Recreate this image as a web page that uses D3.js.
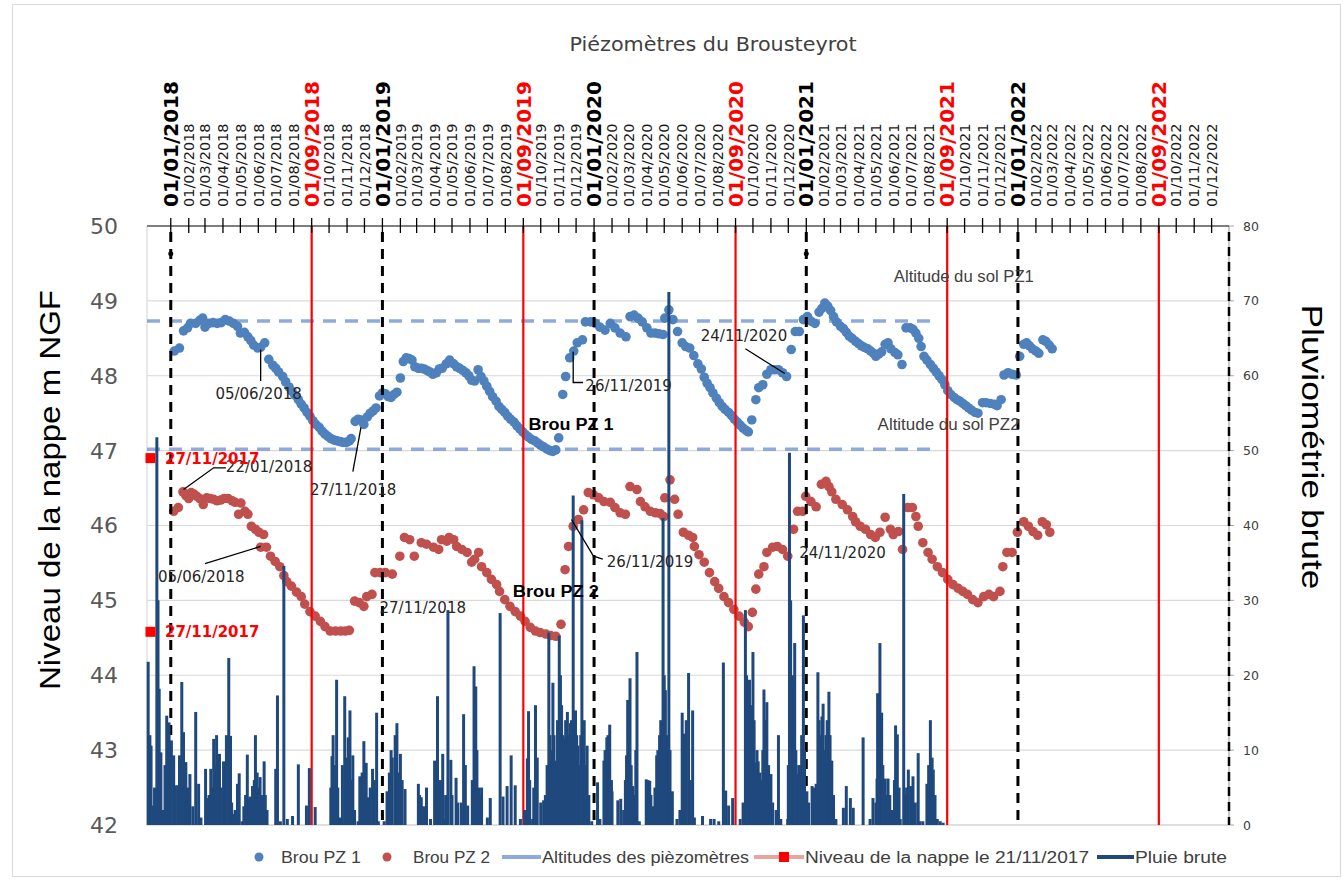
<!DOCTYPE html>
<html><head><meta charset="utf-8">
<script src="https://cdn.jsdelivr.net/npm/d3@7"></script>
<style>body{margin:0;background:#fff}svg{display:block}</style>
</head><body><svg id="c" width="1343" height="881"></svg>
<script>
// ---------------- DATA ----------------
const title = "Piézomètres du Brousteyrot";
const leftTitle = "Niveau  de la nappe m NGF";
const rightTitle = "Pluviométrie brute";
const leftTicks = [42,43,44,45,46,47,48,49,50];
const rightTicks = [0,10,20,30,40,50,60,70,80];
const yearStarts = ["2018-01-01","2019-01-01","2020-01-01","2021-01-01","2022-01-01"];
const septStarts = ["2018-09-01","2019-09-01","2020-09-01","2021-09-01","2022-09-01"];
const altitudes = [48.73, 47.02];
const altitudeRange = ["2017-11-21","2021-08-10"];
const nappe20171121 = [46.90, 44.58];
const nappeDate = "2017-11-27";
const legendLabels = ["Brou PZ 1","Brou PZ 2","Altitudes des pièzomètres","Niveau de la nappe le 21/11/2017","Pluie brute"];

const pz1 = [
["2018-01-07",48.33],["2018-01-16",48.37],["2018-01-23",48.60],["2018-01-30",48.64],["2018-02-04",48.70],["2018-02-13",48.70],
["2018-02-20",48.74],["2018-02-25",48.77],["2018-03-01",48.65],["2018-03-08",48.70],["2018-03-15",48.71],["2018-03-22",48.70],
["2018-03-29",48.71],["2018-04-05",48.75],["2018-04-12",48.73],["2018-04-19",48.70],["2018-04-26",48.66],["2018-05-01",48.57],
["2018-05-08",48.58],["2018-05-14",48.52],["2018-05-19",48.47],["2018-05-24",48.41],["2018-05-31",48.37],["2018-06-05",48.38],
["2018-06-12",48.44],["2018-06-19",48.22],["2018-06-26",48.14],["2018-07-01",48.10],["2018-07-06",48.05],["2018-07-13",47.99],
["2018-07-18",47.92],["2018-07-24",47.85],["2018-07-29",47.79],["2018-08-03",47.74],["2018-08-09",47.68],["2018-08-14",47.62],
["2018-08-19",47.57],["2018-08-24",47.51],["2018-08-29",47.46],["2018-09-03",47.40],["2018-09-08",47.35],["2018-09-14",47.31],
["2018-09-19",47.26],["2018-09-24",47.22],["2018-09-29",47.19],["2018-10-04",47.16],["2018-10-10",47.14],["2018-10-15",47.13],
["2018-10-20",47.12],["2018-10-25",47.11],["2018-10-31",47.11],["2018-11-05",47.13],["2018-11-08",47.16],["2018-11-15",47.39],
["2018-11-20",47.42],["2018-11-25",47.41],["2018-11-30",47.35],["2018-12-06",47.45],["2018-12-11",47.50],["2018-12-16",47.53],
["2018-12-21",47.57],["2018-12-27",47.73],["2019-01-01",47.77],["2019-01-06",47.76],["2019-01-11",47.72],["2019-01-16",47.71],
["2019-01-21",47.75],["2019-01-26",47.78],["2019-02-01",47.97],["2019-02-06",48.19],["2019-02-11",48.24],["2019-02-16",48.23],
["2019-02-21",48.21],["2019-02-26",48.12],["2019-03-04",48.10],["2019-03-09",48.10],["2019-03-14",48.09],["2019-03-19",48.07],
["2019-03-24",48.05],["2019-03-29",48.02],["2019-04-04",48.04],["2019-04-09",48.09],["2019-04-14",48.10],["2019-04-21",48.16],
["2019-04-27",48.21],["2019-05-04",48.16],["2019-05-09",48.12],["2019-05-14",48.10],["2019-05-20",48.07],["2019-05-25",48.04],
["2019-05-30",48.00],["2019-06-04",47.94],["2019-06-09",47.93],["2019-06-15",48.08],["2019-06-20",47.99],["2019-06-25",47.93],
["2019-06-30",47.86],["2019-07-05",47.79],["2019-07-10",47.72],["2019-07-16",47.66],["2019-07-21",47.59],["2019-07-26",47.55],
["2019-07-31",47.51],["2019-08-05",47.46],["2019-08-10",47.42],["2019-08-16",47.38],["2019-08-21",47.33],["2019-08-26",47.29],
["2019-08-31",47.25],["2019-09-05",47.21],["2019-09-10",47.18],["2019-09-15",47.15],["2019-09-21",47.13],["2019-09-26",47.10],
["2019-10-01",47.07],["2019-10-06",47.05],["2019-10-12",47.02],["2019-10-17",47.00],["2019-10-22",46.99],["2019-10-27",47.01],
["2019-11-01",47.17],["2019-11-08",47.75],["2019-11-13",47.99],["2019-11-20",48.24],["2019-11-27",48.33],["2019-12-03",48.44],
["2019-12-12",48.48],["2019-12-17",48.72],["2019-12-26",48.72],["2020-01-03",48.70],["2020-01-11",48.65],["2020-01-20",48.61],
["2020-01-29",48.70],["2020-02-06",48.64],["2020-02-15",48.57],["2020-02-25",48.52],["2020-03-03",48.79],["2020-03-10",48.81],
["2020-03-17",48.77],["2020-03-24",48.72],["2020-04-01",48.64],["2020-04-08",48.57],["2020-04-15",48.57],["2020-04-22",48.56],
["2020-04-29",48.55],["2020-05-02",48.77],["2020-05-09",48.88],["2020-05-16",48.75],["2020-05-24",48.59],["2020-06-01",48.44],
["2020-06-07",48.39],["2020-06-14",48.37],["2020-06-21",48.27],["2020-06-28",48.16],["2020-07-04",48.09],["2020-07-09",47.98],
["2020-07-14",47.90],["2020-07-19",47.84],["2020-07-24",47.77],["2020-07-30",47.70],["2020-08-04",47.64],["2020-08-09",47.59],
["2020-08-14",47.55],["2020-08-20",47.51],["2020-08-25",47.47],["2020-08-30",47.42],["2020-09-04",47.38],["2020-09-09",47.34],
["2020-09-14",47.30],["2020-09-19",47.27],["2020-09-23",47.25],["2020-09-29",47.41],["2020-10-06",47.68],["2020-10-11",47.84],
["2020-10-18",47.88],["2020-10-25",48.02],["2020-11-01",48.08],["2020-11-07",48.08],["2020-11-14",48.08],["2020-11-21",48.04],
["2020-11-28",47.99],["2020-12-06",48.35],["2020-12-13",48.59],["2020-12-20",48.59],["2020-12-27",48.75],["2021-01-03",48.79],
["2021-01-09",48.73],["2021-01-16",48.70],["2021-01-23",48.85],["2021-01-28",48.90],["2021-02-02",48.97],["2021-02-07",48.93],
["2021-02-12",48.87],["2021-02-17",48.79],["2021-02-22",48.72],["2021-03-01",48.66],["2021-03-06",48.63],["2021-03-11",48.58],
["2021-03-16",48.53],["2021-03-21",48.50],["2021-03-27",48.46],["2021-04-01",48.43],["2021-04-06",48.40],["2021-04-11",48.38],
["2021-04-17",48.36],["2021-04-22",48.33],["2021-04-27",48.30],["2021-05-01",48.26],["2021-05-06",48.29],["2021-05-11",48.32],
["2021-05-17",48.42],["2021-05-22",48.44],["2021-05-27",48.36],["2021-06-03",48.31],["2021-06-08",48.28],["2021-06-15",48.15],
["2021-06-22",48.64],["2021-06-29",48.64],["2021-07-04",48.62],["2021-07-09",48.57],["2021-07-14",48.50],["2021-07-18",48.39],
["2021-07-23",48.26],["2021-07-28",48.21],["2021-08-03",48.15],["2021-08-08",48.10],["2021-08-13",48.05],["2021-08-18",48.00],
["2021-08-23",47.95],["2021-08-28",47.88],["2021-09-02",47.80],["2021-09-07",47.75],["2021-09-13",47.71],["2021-09-18",47.68],
["2021-09-23",47.66],["2021-09-28",47.63],["2021-10-03",47.60],["2021-10-08",47.57],["2021-10-13",47.54],["2021-10-19",47.51],
["2021-10-24",47.50],["2021-11-01",47.64],["2021-11-07",47.64],["2021-11-14",47.63],["2021-11-21",47.62],["2021-11-26",47.60],
["2021-12-03",47.68],["2021-12-08",48.01],["2021-12-15",48.04],["2021-12-22",48.02],["2021-12-29",48.01],["2022-01-04",48.26],
["2022-01-11",48.42],["2022-01-16",48.44],["2022-01-21",48.40],["2022-01-26",48.36],["2022-02-01",48.33],["2022-02-06",48.30],
["2022-02-13",48.48],["2022-02-18",48.46],["2022-02-24",48.41],["2022-03-01",48.36]
];

const pz2 = [
["2018-01-06",46.19],["2018-01-14",46.24],["2018-01-22",46.45],["2018-01-27",46.40],["2018-02-01",46.36],["2018-02-05",46.44],
["2018-02-10",46.42],["2018-02-15",46.39],["2018-02-20",46.36],["2018-02-26",46.28],["2018-03-04",46.37],["2018-03-10",46.36],
["2018-03-16",46.35],["2018-03-22",46.33],["2018-03-28",46.34],["2018-04-03",46.36],["2018-04-10",46.36],["2018-04-17",46.33],
["2018-04-22",46.31],["2018-04-28",46.15],["2018-05-02",46.30],["2018-05-09",46.19],["2018-05-14",46.15],["2018-05-20",45.99],
["2018-05-27",45.95],["2018-06-02",45.91],["2018-06-05",45.71],["2018-06-10",45.88],["2018-06-15",45.71],["2018-06-22",45.59],
["2018-06-30",45.52],["2018-07-08",45.45],["2018-07-15",45.33],["2018-07-20",45.25],["2018-07-28",45.19],["2018-08-06",45.11],
["2018-08-14",45.05],["2018-08-20",44.95],["2018-08-29",44.85],["2018-09-07",44.79],["2018-09-16",44.72],["2018-09-24",44.65],
["2018-10-03",44.59],["2018-10-12",44.59],["2018-10-21",44.59],["2018-10-29",44.59],["2018-11-05",44.60],["2018-11-14",44.99],
["2018-11-22",44.97],["2018-11-30",44.92],["2018-12-05",45.05],["2018-12-14",45.08],["2018-12-19",45.37],["2018-12-28",45.37],
["2019-01-06",45.37],["2019-01-18",45.35],["2019-01-31",45.59],["2019-02-08",45.84],["2019-02-17",45.81],["2019-02-25",45.59],
["2019-03-09",45.77],["2019-03-18",45.75],["2019-03-30",45.71],["2019-04-08",45.68],["2019-04-13",45.81],["2019-04-22",45.79],
["2019-04-26",45.84],["2019-05-04",45.81],["2019-05-09",45.72],["2019-05-18",45.68],["2019-05-27",45.64],["2019-06-04",45.51],
["2019-06-09",45.55],["2019-06-16",45.64],["2019-06-21",45.45],["2019-06-30",45.37],["2019-07-08",45.28],["2019-07-17",45.21],
["2019-07-22",45.12],["2019-07-31",45.01],["2019-08-09",44.92],["2019-08-18",44.85],["2019-08-27",44.79],["2019-09-04",44.72],
["2019-09-13",44.64],["2019-09-22",44.59],["2019-09-30",44.57],["2019-10-10",44.55],["2019-10-18",44.53],["2019-10-27",44.52],
["2019-11-05",44.68],["2019-11-12",45.41],["2019-11-18",45.72],["2019-11-26",45.99],["2019-12-05",46.08],["2019-12-14",46.21],
["2019-12-22",46.44],["2019-12-31",46.41],["2020-01-09",46.37],["2020-01-18",46.32],["2020-01-29",46.31],["2020-02-06",46.24],
["2020-02-15",46.17],["2020-02-24",46.15],["2020-03-03",46.52],["2020-03-15",46.48],["2020-03-21",46.32],["2020-03-29",46.25],
["2020-04-07",46.19],["2020-04-16",46.17],["2020-04-24",46.16],["2020-04-30",46.12],["2020-05-02",46.37],["2020-05-11",46.61],
["2020-05-19",46.35],["2020-05-25",46.15],["2020-06-03",45.91],["2020-06-12",45.87],["2020-06-19",45.84],["2020-06-22",45.72],
["2020-06-30",45.61],["2020-07-09",45.51],["2020-07-18",45.37],["2020-07-27",45.25],["2020-08-03",45.16],["2020-08-12",45.05],
["2020-08-20",44.97],["2020-08-29",44.88],["2020-09-07",44.79],["2020-09-16",44.71],["2020-09-23",44.65],["2020-09-30",44.84],
["2020-10-06",45.15],["2020-10-11",45.35],["2020-10-20",45.45],["2020-10-25",45.64],["2020-11-04",45.71],["2020-11-12",45.72],
["2020-11-21",45.68],["2020-11-30",45.59],["2020-12-10",45.95],["2020-12-17",46.19],["2020-12-26",46.19],["2020-12-31",46.39],
["2021-01-09",46.32],["2021-01-18",46.25],["2021-01-27",46.55],["2021-02-04",46.59],["2021-02-09",46.52],["2021-02-14",46.45],
["2021-02-21",46.35],["2021-03-04",46.28],["2021-03-13",46.21],["2021-03-22",46.12],["2021-03-27",46.05],["2021-04-04",45.99],
["2021-04-13",45.95],["2021-04-22",45.88],["2021-04-30",45.84],["2021-05-08",45.91],["2021-05-17",46.11],["2021-05-26",45.95],
["2021-05-31",45.88],["2021-06-09",45.92],["2021-06-16",45.68],["2021-06-25",46.24],["2021-07-03",46.24],["2021-07-09",46.12],
["2021-07-13",45.99],["2021-07-21",45.77],["2021-07-30",45.64],["2021-08-06",45.55],["2021-08-15",45.45],["2021-08-24",45.37],
["2021-09-02",45.28],["2021-09-11",45.21],["2021-09-20",45.16],["2021-09-28",45.12],["2021-10-06",45.08],["2021-10-15",45.01],
["2021-10-24",44.97],["2021-11-03",45.05],["2021-11-12",45.08],["2021-11-20",45.05],["2021-12-01",45.12],["2021-12-06",45.45],
["2021-12-13",45.64],["2021-12-22",45.64],["2021-12-31",45.91],["2022-01-11",46.05],["2022-01-19",45.99],["2022-01-27",45.92],
["2022-02-04",45.87],["2022-02-12",46.05],["2022-02-19",46.01],["2022-02-25",45.91]
];

const rain = [
["2017-11-23",21.8],["2017-11-26",12.0],["2017-11-28",10.6],["2017-12-01",2.6],["2017-12-04",5.0],["2017-12-08",51.8],["2017-12-10",30.0],["2017-12-12",18.2],
["2017-12-15",9.7],["2017-12-18",2.0],["2017-12-22",8.0],["2017-12-25",14.6],["2017-12-29",13.7],["2018-01-02",11.3],["2018-01-06",9.3],
["2018-01-09",5.3],["2018-01-13",5.3],["2018-01-16",9.3],["2018-01-20",19.1],["2018-01-23",12.4],["2018-01-27",8.4],["2018-01-30",5.0],
["2018-02-03",6.8],["2018-02-08",2.5],["2018-02-13",15.1],["2018-02-18",5.5],["2018-02-22",1.0],["2018-03-02",7.5],["2018-03-06",3.6],
["2018-03-11",7.5],["2018-03-16",11.5],["2018-03-19",8.0],["2018-03-21",12.0],["2018-03-26",9.5],["2018-04-02",8.5],["2018-04-04",6.5],["2018-04-07",12.0],
["2018-04-11",22.3],["2018-04-14",11.9],["2018-04-19",1.5],["2018-04-26",5.5],["2018-04-29",6.9],["2018-05-04",0.5],["2018-05-13",9.4],
["2018-05-18",3.8],["2018-05-22",5.2],["2018-05-27",12.0],["2018-05-30",7.0],["2018-06-04",6.4],["2018-06-08",4.0],["2018-06-11",8.5],["2018-06-16",2.0],
["2018-07-01",7.5],["2018-07-04",17.3],["2018-07-09",0.5],["2018-07-15",34.6],["2018-07-21",0.8],["2018-07-30",1.2],["2018-08-09",8.1],
["2018-08-23",2.6],["2018-08-28",7.6],["2018-09-07",2.4],["2018-10-04",5.0],["2018-10-06",9.2],["2018-10-14",19.4],["2018-10-19",1.0],
["2018-10-28",17.2],["2018-11-01",9.0],["2018-11-03",11.7],["2018-11-06",15.3],["2018-11-11",9.3],["2018-11-20",0.5],["2018-11-23",6.5],
["2018-11-27",7.0],["2018-11-30",11.2],["2018-12-04",8.3],["2018-12-08",3.7],["2018-12-15",7.5],["2018-12-22",15.0],["2018-12-25",0.5],["2019-01-04",0.5],
["2019-01-09",4.5],["2019-01-18",9.0],["2019-01-23",12.0],["2019-01-26",13.6],["2019-02-01",9.5],["2019-02-09",4.8],["2019-03-04",5.5],
["2019-03-09",3.7],["2019-03-18",5.0],["2019-03-25",0.8],["2019-04-01",8.6],["2019-04-06",17.2],["2019-04-08",1.0],["2019-04-15",9.5],
["2019-04-17",0.8],["2019-04-24",28.7],["2019-04-29",8.7],["2019-05-08",6.3],["2019-05-11",3.0],["2019-05-21",14.8],["2019-05-28",2.6],
["2019-06-08",21.2],["2019-06-11",18.5],["2019-06-16",5.0],["2019-06-21",5.0],["2019-07-01",1.0],["2019-07-06",3.6],["2019-07-23",28.3],
["2019-07-28",3.8],["2019-08-04",5.2],["2019-08-11",9.3],["2019-08-18",5.3],["2019-08-27",0.8],["2019-09-03",2.0],["2019-09-08",8.9],
["2019-09-10",15.2],["2019-09-17",0.8],["2019-09-22",16.0],["2019-09-25",9.0],["2019-10-01",3.0],["2019-10-06",3.3],["2019-10-15",25.7],
["2019-10-19",10.0],["2019-10-22",19.0],["2019-10-27",8.6],["2019-11-02",25.3],["2019-11-06",16.0],["2019-11-11",11.6],["2019-11-16",15.1],["2019-11-21",13.6],
["2019-11-26",44.0],["2019-11-30",15.3],["2019-12-04",10.6],["2019-12-11",40.7],["2019-12-15",14.0],["2019-12-20",10.6],["2019-12-23",4.0],
["2019-12-28",0.5],["2020-01-07",5.7],["2020-01-11",0.8],["2020-01-18",8.6],["2020-01-23",11.7],["2020-01-28",13.4],["2020-02-01",4.5],
["2020-02-11",3.3],["2020-02-16",3.5],["2020-02-26",9.3],["2020-02-28",16.7],["2020-03-03",19.6],["2020-03-08",5.2],["2020-03-15",23.1],
["2020-03-19",0.5],["2020-03-31",6.1],["2020-04-06",5.9],["2020-04-11",2.5],["2020-04-18",9.3],["2020-04-23",12.0],["2020-04-27",12.8],
["2020-04-29",41.0],["2020-05-03",18.0],["2020-05-06",12.0],["2020-05-09",71.2],["2020-05-15",4.5],["2020-05-23",0.8],["2020-06-01",15.0],
["2020-06-05",12.2],["2020-06-12",20.3],["2020-06-19",15.3],["2020-06-22",1.0],["2020-07-06",1.2],["2020-07-20",0.8],["2020-07-26",0.8],
["2020-08-03",0.5],["2020-08-11",21.7],["2020-08-15",4.6],["2020-08-20",2.6],["2020-08-27",3.6],["2020-09-09",0.8],["2020-09-18",28.7],
["2020-09-21",12.0],["2020-09-25",19.4],["2020-10-01",23.1],["2020-10-06",8.3],["2020-10-10",8.5],["2020-10-15",6.0],["2020-10-20",18.1],["2020-10-25",16.4],
["2020-11-01",6.8],["2020-11-14",12.0],["2020-11-18",0.8],["2020-11-30",0.8],["2020-12-03",49.7],["2020-12-08",20.0],["2020-12-12",24.3],["2020-12-17",6.8],
["2020-12-22",8.0],["2020-12-27",28.0],["2021-01-02",4.5],["2021-01-11",5.2],["2021-01-18",5.5],["2021-01-21",20.4],["2021-01-28",14.5],["2021-01-30",16.2],
["2021-02-04",12.0],["2021-02-09",17.8],["2021-02-14",8.6],["2021-02-21",0.8],["2021-03-06",2.3],["2021-03-11",5.2],["2021-03-18",3.6],
["2021-03-23",2.3],["2021-04-09",11.7],["2021-04-21",0.8],["2021-04-26",3.6],["2021-05-03",6.2],["2021-05-04",17.6],["2021-05-08",24.3],
["2021-05-11",15.0],["2021-05-17",6.2],["2021-05-22",6.2],["2021-05-29",2.0],["2021-06-04",13.3],["2021-06-07",12.1],["2021-06-12",0.8],
["2021-06-18",44.2],["2021-06-21",4.1],["2021-06-26",7.4],["2021-06-30",5.2],["2021-07-04",6.5],["2021-07-13",9.6],["2021-07-16",0.5],
["2021-07-21",0.5],["2021-07-28",5.5],["2021-08-03",14.0],["2021-08-08",7.4],["2021-08-15",0.8],["2021-08-20",0.5],["2021-08-25",0.3]
];
// additional low daily totals read between the main spikes
const rainMore = [
["2018-03-08",4.0],["2018-03-13",5.0],["2018-03-24",6.0],["2018-03-29",5.0],["2018-04-16",3.0],["2018-04-22",2.0],["2018-05-07",2.5],
["2018-05-10",4.0],["2018-05-16",3.5],["2018-05-25",6.0],["2018-06-01",5.0],["2018-06-13",4.0],
["2018-10-08",12.0],["2018-10-11",8.0],["2018-10-16",5.0],["2018-10-24",8.0],["2018-10-31",6.0],["2018-11-09",6.0],["2018-11-14",2.0],
["2018-12-01",6.0],["2018-12-11",5.0],["2018-12-18",6.0],["2019-01-13",7.0],["2019-01-16",10.0],["2019-01-29",7.0],["2019-02-04",6.0],
["2019-03-06",4.0],["2019-03-13",2.5],["2019-04-03",5.0],["2019-04-11",6.0],["2019-04-20",4.0],["2019-05-01",4.0],["2019-05-17",3.0],
["2019-05-24",8.0],["2019-06-05",6.0],["2019-06-13",10.0],["2019-06-19",4.0],
["2019-09-12",6.0],["2019-09-19",5.0],["2019-10-09",4.0],["2019-10-12",8.0],["2019-10-17",12.0],["2019-10-24",12.0],["2019-10-30",14.0],
["2019-11-04",20.0],["2019-11-08",12.0],["2019-11-13",14.0],["2019-11-18",12.0],["2019-11-23",14.0],["2019-11-28",12.0],["2019-12-02",12.0],
["2019-12-07",8.0],["2019-12-09",12.0],["2019-12-13",10.0],["2019-12-17",8.0],
["2020-01-20",10.0],["2020-01-25",12.0],["2020-01-31",6.0],["2020-02-21",2.0],["2020-02-24",6.0],["2020-03-01",12.0],["2020-03-05",8.0],
["2020-03-11",4.0],["2020-03-13",10.0],["2020-04-03",6.0],["2020-04-08",4.0],["2020-04-15",5.0],["2020-04-20",10.0],["2020-04-25",14.0],
["2020-05-01",20.0],["2020-05-11",10.0],["2020-05-28",2.0],["2020-06-03",10.0],["2020-06-08",14.0],["2020-06-15",6.0],
["2020-09-14",3.0],["2020-09-20",20.0],["2020-09-23",14.0],["2020-09-28",16.0],["2020-10-03",14.0],["2020-10-08",10.0],["2020-10-13",7.0],
["2020-10-18",10.0],["2020-10-22",14.0],["2020-10-28",8.0],["2020-11-04",3.0],["2020-11-10",2.0],["2020-12-01",8.0],["2020-12-05",30.0],
["2020-12-10",18.0],["2020-12-14",10.0],["2020-12-19",8.0],["2020-12-24",12.0],["2020-12-29",10.0],
["2021-01-05",3.0],["2021-01-14",5.0],["2021-01-23",14.0],["2021-01-25",12.0],["2021-02-01",10.0],["2021-02-06",14.0],["2021-02-11",12.0],
["2021-02-17",4.0],["2021-05-01",3.0],["2021-05-06",10.0],["2021-05-13",8.0],["2021-05-19",4.0],["2021-05-25",4.0],["2021-06-02",6.0],
["2021-06-10",5.0],["2021-06-23",5.0],["2021-07-08",3.0],["2021-07-31",8.0],["2021-08-06",9.0],["2021-08-11",4.0]
];

const annotations = [
  {t:"05/06/2018", d:"2018-03-19", v:47.69, line:[["2018-06-05",48.35],["2018-06-05",47.93]]},
  {t:"22/01/2018", d:"2018-04-06", v:46.72, line:[["2018-01-23",46.48],["2018-03-16",46.77],["2018-04-06",46.77]]},
  {t:"27/11/2018", d:"2018-08-29", v:46.41, line:[["2018-11-25",47.31],["2018-11-11",46.72]]},
  {t:"05/06/2018", d:"2017-12-10", v:45.24, line:[["2018-06-05",45.72],["2018-03-01",45.49]]},
  {t:"27/11/2018", d:"2018-12-27", v:44.83, line:null},
  {t:"26/11/2019", d:"2019-12-17", v:47.80, line:[["2019-11-26",48.32],["2019-11-26",47.91],["2019-12-13",47.91]]},
  {t:"26/11/2019", d:"2020-01-23", v:45.45, line:[["2019-11-23",46.08],["2019-12-31",45.59],["2020-01-16",45.55]]},
  {t:"24/11/2020", d:"2020-07-03", v:48.47, line:[["2020-09-18",48.36],["2020-11-25",48.03]]},
  {t:"24/11/2020", d:"2020-12-20", v:45.57, line:null}
];
const boldNotes = [
  {t:"Brou PZ 1", d:"2019-09-10", v:47.28, w:85},
  {t:"Brou PZ 2", d:"2019-08-14", v:45.05, w:86}
];
const plainNotes = [
  {t:"Altitude du sol PZ1", d:"2021-06-01", v:49.25, w:140},
  {t:"Altitude du sol PZ2", d:"2021-05-04", v:47.27, w:142}
];
const redNoteText = "27/11/2017";
const redNoteDate = "2017-12-22";

// ---------------- CHART ----------------
const parse = d3.timeParse("%Y-%m-%d");
const fmt = d3.timeFormat("%d/%m/%Y");
const svg = d3.select("#c");
const L=147, R=1229, T=226, B=825;
const x = d3.scaleTime().domain([parse("2017-11-21"), parse("2022-12-31")]).range([L,R]);
const y = d3.scaleLinear().domain([42,50]).range([B,T]);
const yr = d3.scaleLinear().domain([0,80]).range([B,T]);

svg.append("rect").attr("x",12.5).attr("y",4.5).attr("width",1328).attr("height",872)
  .attr("fill","#fff").attr("stroke","#d9d9d9");

svg.append("text").attr("x",713).attr("y",51).attr("text-anchor","middle")
  .attr("font-family","DejaVu Sans").attr("font-size",19).attr("fill","#404040")
  .attr("textLength",287).attr("lengthAdjust","spacingAndGlyphs").text(title);

// gridlines
svg.append("g").selectAll("line").data(leftTicks.slice(1,-1)).join("line")
  .attr("x1",L).attr("x2",R).attr("y1",d=>y(d)).attr("y2",d=>y(d))
  .attr("stroke","#d9d9d9").attr("stroke-width",1.2);
svg.append("line").attr("x1",L).attr("x2",R).attr("y1",B).attr("y2",B).attr("stroke","#bfbfbf").attr("stroke-width",1.2);
svg.append("line").attr("x1",L).attr("x2",L).attr("y1",T).attr("y2",B).attr("stroke","#d9d9d9").attr("stroke-width",1.2);

// left axis labels
svg.append("g").selectAll("text").data(leftTicks).join("text")
  .attr("x",118).attr("y",d=>y(d)).attr("dy","0.36em").attr("text-anchor","end")
  .attr("font-family","DejaVu Sans").attr("font-size",22).attr("fill","#595959").text(d=>d);

// right axis
svg.append("line").attr("x1",R).attr("x2",R).attr("y1",T).attr("y2",B).attr("stroke","#a6a6a6").attr("stroke-width",1.2);
svg.append("g").selectAll("line").data(rightTicks).join("line")
  .attr("x1",R).attr("x2",R+5).attr("y1",d=>yr(d)).attr("y2",d=>yr(d)).attr("stroke","#a6a6a6");
svg.append("g").selectAll("text").data(rightTicks).join("text")
  .attr("x",1243).attr("y",d=>yr(d)).attr("dy","0.36em")
  .attr("font-family","DejaVu Sans").attr("font-size",12.5).attr("fill","#404040").text(d=>d);

// axis titles
svg.append("text").attr("transform","translate(60,490) rotate(-90)").attr("text-anchor","middle")
  .attr("font-family","Liberation Sans").attr("font-size",29).attr("fill","#000")
  .attr("textLength",400).attr("lengthAdjust","spacingAndGlyphs").text(leftTitle);
svg.append("text").attr("transform","translate(1302,447) rotate(90)").attr("text-anchor","middle")
  .attr("font-family","Liberation Sans").attr("font-size",29).attr("fill","#000")
  .attr("textLength",285).attr("lengthAdjust","spacingAndGlyphs").text(rightTitle);

// altitude dashed lines
svg.append("g").selectAll("line").data(altitudes).join("line")
  .attr("x1",x(parse(altitudeRange[0]))).attr("x2",x(parse(altitudeRange[1])))
  .attr("y1",d=>y(d)).attr("y2",d=>y(d))
  .attr("stroke","#8eaadb").attr("stroke-width",3.5).attr("stroke-dasharray","13,9");

// dots
svg.append("g").selectAll("circle").data(pz1).join("circle")
  .attr("cx",d=>x(parse(d[0]))).attr("cy",d=>y(d[1])).attr("r",4.8).attr("fill","#4f81bd");
svg.append("g").selectAll("circle").data(pz2).join("circle")
  .attr("cx",d=>x(parse(d[0]))).attr("cy",d=>y(d[1])).attr("r",4.8).attr("fill","#c0504d");

// vertical reference lines
svg.append("g").selectAll("line").data(septStarts).join("line")
  .attr("x1",d=>x(parse(d))).attr("x2",d=>x(parse(d))).attr("y1",T).attr("y2",B)
  .attr("stroke","#ff0000").attr("stroke-width",2.2);
svg.append("g").selectAll("line").data(yearStarts).join("line")
  .attr("x1",d=>x(parse(d))).attr("x2",d=>x(parse(d))).attr("y1",T+6).attr("y2",B)
  .attr("stroke","#000").attr("stroke-width",3).attr("stroke-dasharray","10,7");
svg.append("g").selectAll("circle").data([yearStarts[0],yearStarts[3]]).join("circle")
  .attr("cx",d=>x(parse(d))).attr("cy",y(49.63)).attr("r",2.5).attr("fill","#000");
svg.append("line").attr("x1",R).attr("x2",R).attr("y1",T+6).attr("y2",B)
  .attr("stroke","#000").attr("stroke-width",2.5).attr("stroke-dasharray","9,6");

// rain bars
svg.append("g").selectAll("line").data(rain.concat(rainMore)).join("line")
  .attr("x1",d=>x(parse(d[0]))).attr("x2",d=>x(parse(d[0])))
  .attr("y1",yr(0)).attr("y2",d=>yr(d[1]))
  .attr("stroke","#1f497d").attr("stroke-width",3);

// top date axis
const months = d3.timeMonth.range(parse("2018-01-01"), parse("2023-01-01"));
svg.append("line").attr("x1",L).attr("x2",R).attr("y1",T).attr("y2",T).attr("stroke","#000").attr("stroke-width",1.2);
svg.append("g").selectAll("line").data(months).join("line")
  .attr("x1",d=>x(d)).attr("x2",d=>x(d)).attr("y1",T-8).attr("y2",T+7)
  .attr("stroke","#000").attr("stroke-width",1.3);
svg.append("g").selectAll("text").data(months).join("text")
  .attr("transform",d=>`translate(${x(d)},207) rotate(-90)`).attr("dy","0.36em")
  .attr("font-family","DejaVu Sans")
  .each(function(d){
    const s=d3.select(this), m=d.getMonth();
    if(m===0){ s.attr("font-size",20).attr("font-weight","bold").attr("fill","#000"); }
    else if(m===8){ s.attr("font-size",20).attr("font-weight","bold").attr("fill","#ff0000"); }
    else { s.attr("font-size",14.5).attr("fill","#1a1a1a"); }
  })
  .text(d=>fmt(d));

// annotations
const ag = svg.append("g");
annotations.forEach(a=>{
  if(a.line){
    ag.append("path").attr("d", d3.line().x(p=>x(parse(p[0]))).y(p=>y(p[1]))(a.line))
      .attr("fill","none").attr("stroke","#000").attr("stroke-width",1.3);
  }
  ag.append("text").attr("x",x(parse(a.d))).attr("y",y(a.v))
    .attr("font-family","DejaVu Sans").attr("font-size",15).attr("fill","#262626").text(a.t);
});
boldNotes.forEach(a=>{
  ag.append("text").attr("x",x(parse(a.d))).attr("y",y(a.v))
    .attr("font-family","Liberation Sans").attr("font-weight","bold").attr("font-size",16).attr("fill","#000")
    .attr("textLength",a.w).attr("lengthAdjust","spacingAndGlyphs").text(a.t);
});
plainNotes.forEach(a=>{
  ag.append("text").attr("x",x(parse(a.d))).attr("y",y(a.v))
    .attr("font-family","Liberation Sans").attr("font-size",16).attr("fill","#404040")
    .attr("textLength",a.w).attr("lengthAdjust","spacingAndGlyphs").text(a.t);
});

// niveau 21/11/2017
svg.append("g").selectAll("rect").data(nappe20171121).join("rect")
  .attr("x",x(parse(nappeDate))-5).attr("y",d=>y(d)-5).attr("width",10).attr("height",10).attr("fill","#ff0000");
svg.append("g").selectAll("text").data(nappe20171121).join("text")
  .attr("x",x(parse(redNoteDate))).attr("y",d=>y(d)).attr("dy","0.36em")
  .attr("font-family","DejaVu Sans").attr("font-weight","bold").attr("font-size",15).attr("fill","#ff0000").text(redNoteText);

// legend
const lg = svg.append("g").attr("font-family","Liberation Sans").attr("font-size",16).attr("fill","#404040");
const ly = 857;
lg.append("circle").attr("cx",259).attr("cy",ly).attr("r",4.5).attr("fill","#4f81bd");
lg.append("circle").attr("cx",387).attr("cy",ly).attr("r",4.5).attr("fill","#c0504d");
lg.append("line").attr("x1",502).attr("x2",541).attr("y1",ly).attr("y2",ly).attr("stroke","#8eaadb").attr("stroke-width",4);
lg.append("line").attr("x1",754).attr("x2",804).attr("y1",ly).attr("y2",ly).attr("stroke","#e8a3a3").attr("stroke-width",4);
lg.append("rect").attr("x",779).attr("y",ly-5).attr("width",10).attr("height",10).attr("fill","#ff0000");
lg.append("line").attr("x1",1097).attr("x2",1134).attr("y1",ly).attr("y2",ly).attr("stroke","#1f497d").attr("stroke-width",4);
const lpos = [[281,80],[413,77],[542,207],[805,284],[1135,92]];
legendLabels.forEach((t,i)=>{
  lg.append("text").attr("x",lpos[i][0]).attr("y",ly).attr("dy","0.35em")
    .attr("textLength",lpos[i][1]).attr("lengthAdjust","spacingAndGlyphs").text(t);
});
</script></body></html>
